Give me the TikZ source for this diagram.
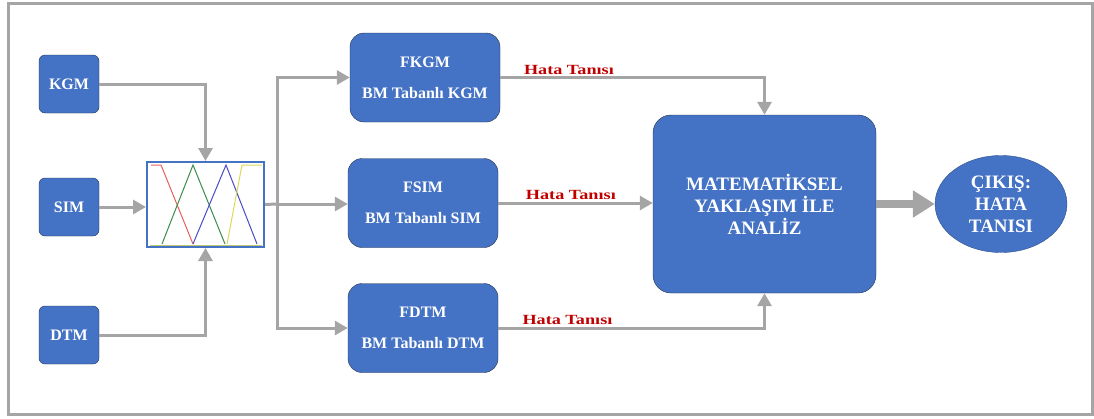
\documentclass[tikz,border=0pt]{standalone}
\usepackage{fontspec}
\setmainfont{Liberation Serif}
\usetikzlibrary{arrows.meta,shapes.geometric}
\definecolor{kutumavi}{HTML}{4472C4}
\definecolor{kenar}{HTML}{26324F}
\definecolor{okgri}{HTML}{A5A5A5}
\definecolor{hatakirmizi}{HTML}{C00000}

\begin{document}
\begin{tikzpicture}[x=1pt,y=-1pt]
	\tikzstyle{giris}=[rectangle,rounded corners=6pt,draw=kenar,fill=kutumavi,text=white,font=\fontsize{16}{20}\selectfont\bfseries,minimum width=60pt,minimum height=58pt,inner sep=0pt]
	\tikzstyle{fblok}=[rectangle,rounded corners=14pt,draw=kenar,fill=kutumavi,text=white,align=center,font=\fontsize{16}{31}\selectfont\bfseries,minimum width=150pt,minimum height=89pt,inner sep=0pt]
	\tikzstyle{ok}=[draw=okgri,line width=3pt,-{Triangle[length=13pt,width=14pt]}]
	\tikzstyle{hata}=[text=hatakirmizi,font=\fontsize{14}{14}\selectfont\bfseries,above,inner sep=1.5pt]
	\useasboundingbox (0,0) rectangle (1094,418);
	\draw[okgri,line width=3pt] (8,3) rectangle (1092,414);
	% girisler
	\node[giris](kgm) at (69,84) {KGM};
	\node[giris](sim) at (69,207) {SIM};
	\node[giris](dtm) at (69,335) {DTM};
	% bulaniklastirma kutusu
	\node[rectangle,draw=kutumavi,line width=2pt,fill=white,minimum width=117pt,minimum height=85pt,inner sep=0pt](fz) at (205.5,204.5) {};
	\draw[line width=1pt,color={rgb,255:red,232;green,96;blue,90}] (151,165) -- (161,165) -- (193,244);
	\draw[line width=1pt,color={rgb,255:red,60;green,140;blue,76}] (162,244) -- (193,165) -- (225,244);
	\draw[line width=1pt,color={rgb,255:red,75;green,75;blue,200}] (193,244) -- (226,165) -- (257,244);
	\draw[line width=1pt,color={rgb,255:red,218;green,218;blue,90}] (227,244) -- (242,165) -- (262,165);
	\draw[line width=1pt,color={rgb,255:red,190;green,200;blue,110}] (150,245) -- (262,245);
	% bulanik modeller
	\node[fblok](fkgm) at (425,77.5) {FKGM\\BM Tabanlı KGM};
	\node[fblok](fsim) at (423,203) {FSIM\\BM Tabanlı SIM};
	\node[fblok](fdtm) at (423,328) {FDTM\\BM Tabanlı DTM};
	\node[rectangle,rounded corners=18pt,draw=kenar,fill=kutumavi,text=white,align=center,font=\fontsize{19}{22}\selectfont\bfseries,minimum width=223pt,minimum height=178pt,inner sep=0pt](mat) at (764.5,204) {MATEMATİKSEL\\YAKLAŞIM İLE\\ANALİZ};
	\node[ellipse,draw=kutumavi!70!black,fill=kutumavi,text=white,align=center,font=\fontsize{19}{22}\selectfont\bfseries,minimum width=132pt,minimum height=97pt,inner sep=0pt](cikis) at (1001,204) {ÇIKIŞ:\\HATA\\TANISI};
	\coordinate (dal) at (277,204);
	% baglantilar
	\draw[ok](kgm.east) -| (fz.north);
	\draw[ok](sim.east) -- (fz.west |- sim.east);
	\draw[ok](dtm.east) -| (fz.south);
	\draw[draw=okgri,line width=3pt](fz.east) -- (dal);
	\draw[ok](dal) |- (fkgm.west);
	\draw[ok](dal) -- (fsim.west |- dal);
	\draw[ok](dal) |- (fdtm.west);
	\draw[ok](fkgm.east) -| node[hata,pos=0.13]{\scalebox{1.3}[1]{Hata Tanısı}} (mat.north);
	\draw[ok](fsim.east) -- node[hata,pos=0.47]{\scalebox{1.3}[1]{Hata Tanısı}} (mat.west |- fsim.east);
	\draw[ok](fdtm.east) -| node[hata,pos=0.13]{\scalebox{1.3}[1]{Hata Tanısı}} (mat.south);
	\draw[draw=okgri,line width=8pt,-{Triangle[length=22pt,width=26pt]}](mat.east) -- (cikis.west);
\end{tikzpicture}
\end{document}
